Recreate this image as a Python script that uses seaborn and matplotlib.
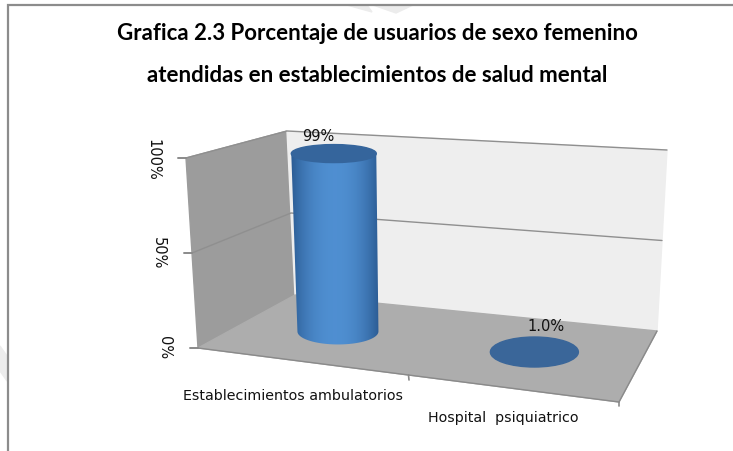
import numpy as np
import pandas as pd
import seaborn as sns
import matplotlib.pyplot as plt
from matplotlib.patches import Ellipse, Polygon

categorias = ['Establecimientos ambulatorios', 'Hospital  psiquiatrico']
valores = [99, 1.0]
etiquetas = ['99%', '1.0%']
y_ticks = [0, 50, 100]
y_labels = ['0%', '50%', '100%']
titulo = ['Grafica 2.3 Porcentaje de usuarios de sexo femenino',
          'atendidas en establecimientos de salud mental']

# corners of the fake 3d box, in pixels: front left, front right, back left, back right
piso = np.array([[198, 349], [619, 403], [295, 296], [657, 332]], dtype=float)
techo = np.array([[186, 159], [612, 205], [287, 132], [667, 151]], dtype=float)


def proyecta(x, d, v):
    # x across the categories 0-1, d depth 0-1, v value 0-100
    def bilineal(q):
        frente = q[0] + (q[1] - q[0]) * x
        fondo = q[2] + (q[3] - q[2]) * x
        return frente + (fondo - frente) * d
    a = bilineal(piso)
    b = bilineal(techo)
    return a + (b - a) * v / 100


def cilindro(ax, i, valor):
    x = (i + 0.5) / len(valores) - 0.016
    cx0, cy0 = proyecta(x, 0.51, 0)
    cx1, cy1 = proyecta(x, 0.51, valor)
    if valor < 5:
        ax.add_patch(Ellipse((cx1, cy1), 88, 30, color='#3a6699', zorder=4))
        return cy1
    cx0, cx1 = cx0 - 1, cx1 + 2
    w0, h0, w1, h1 = 81, 26, 85, 18
    t = np.linspace(0, np.pi, 40)
    arco = np.column_stack([cx0 + w0 / 2 * np.cos(t), cy0 + h0 / 2 * np.sin(t)])
    borde = np.vstack([[cx1 - w1 / 2, cy1], [cx1 + w1 / 2, cy1], arco])
    grad = np.abs(np.linspace(-1, 1, 120)) ** 2.2
    c1 = np.array([0.31, 0.56, 0.82])
    c2 = np.array([0.17, 0.36, 0.58])
    img = (c1 + (c2 - c1) * grad[:, None])[None, :, :]
    # image box taller than the cylinder, the clip path gives the rounded base
    im = ax.imshow(img, extent=(cx1 - w1 / 2, cx0 + w0 / 2, cy0 + h0, cy1),
                   aspect='auto', zorder=4, interpolation='bilinear')
    im.set_clip_path(Polygon(borde, transform=ax.transData))
    ax.add_patch(Ellipse((cx1, cy1), w1, h1, color='#35659c', zorder=5))
    return cy1


sns.set_theme(style='white')
plt.rcParams['font.family'] = ['DejaVu Sans']

fig = plt.figure(figsize=(7.33, 4.52), dpi=100)
ax = fig.add_axes([0, 0, 1, 1])

# walls and floor
ax.add_patch(Polygon([proyecta(0, 0, 0), proyecta(0, 0, 100), proyecta(0, 1, 100), proyecta(0, 1, 0)], color='#9c9c9c', zorder=1))
ax.add_patch(Polygon([proyecta(0, 1, 0), proyecta(0, 1, 100), proyecta(1, 1, 100), proyecta(1, 1, 0)], color='#eeeeee', zorder=1))
ax.add_patch(Polygon([proyecta(0, 0, 0), proyecta(1, 0, 0), proyecta(1, 1, 0), proyecta(0, 1, 0)], color='#adadad', zorder=2))

# gridlines, one line per tick above the floor across side wall and back wall
filas = []
for v in y_ticks[1:]:
    for orden, (x, d) in enumerate([(0, 0), (0, 1), (1, 1)]):
        px, py = proyecta(x, d, v)
        filas.append({'tick': v, 'orden': orden, 'px': px, 'py': py})
grid = pd.DataFrame(filas)
sns.lineplot(data=grid, x='px', y='py', units='tick', estimator=None, sort=False,
             color='#8f8f8f', linewidth=1.0, ax=ax, zorder=3)

for v, lab in zip(y_ticks, y_labels):
    px, py = proyecta(0, 0, v)
    ax.plot([px - 8, px], [py, py], color='#8a8a8a', lw=1.4, zorder=3)
    ax.text(px - 33.5, py + (1 if v == 100 else -1), lab, rotation=270, ha='center', va='center',
            fontsize=10.5, color='#111111')

# floor edges and category tick
for a, b in [((0, 0), (1, 0)), ((1, 0), (1, 1))]:
    p, q = proyecta(*a, 0), proyecta(*b, 0)
    ax.plot([p[0], q[0]], [p[1], q[1]], color='#8a8a8a', lw=1.0, zorder=3)
px, py = proyecta(0.5, 0, 0)
ax.plot([px, px + 0.5], [py, py + 5], color='#8a8a8a', lw=1.2, zorder=3)
px, py = proyecta(1, 0, 0)
ax.plot([px, px], [py, py + 4], color='#8a8a8a', lw=1.2, zorder=3)

tops = [cilindro(ax, i, v) for i, v in enumerate(valores)]

ax.text(318, 137, etiquetas[0], ha='center', va='center', fontsize=10.5, color='#111111', zorder=6)
ax.text(546, 327, etiquetas[1], ha='center', va='center', fontsize=10.5, color='#111111', zorder=6)
ax.text(293, 396, categorias[0], ha='center', va='center', fontsize=10.3, color='#111111')
ax.text(503, 418, categorias[1], ha='center', va='center', fontsize=10.3, color='#111111')

for texto, y in zip(titulo, [34, 75]):
    ax.text(377, y, texto, ha='center', va='center', fontsize=16, fontweight='bold',
            family='Lato', color='black')

# chart frame and the bits of watermark that show through
ax.plot([8, 8, 733], [452, 5.5, 5.5], color='#8c8c8c', lw=1.6, zorder=7, solid_joinstyle='miter')
for marca in [[(347, 6), (367, 6), (372, 13)], [(373, 6), (413, 6), (396, 14)],
              [(0, 347), (7, 357), (7, 382), (0, 372)]]:
    ax.add_patch(Polygon(marca, color='#ececec', zorder=0))

ax.set_xlim(0, 733)
ax.set_ylim(452, 0)
ax.set_xlabel('')
ax.set_ylabel('')
ax.axis('off')
fig.savefig('out.png', dpi=100)
